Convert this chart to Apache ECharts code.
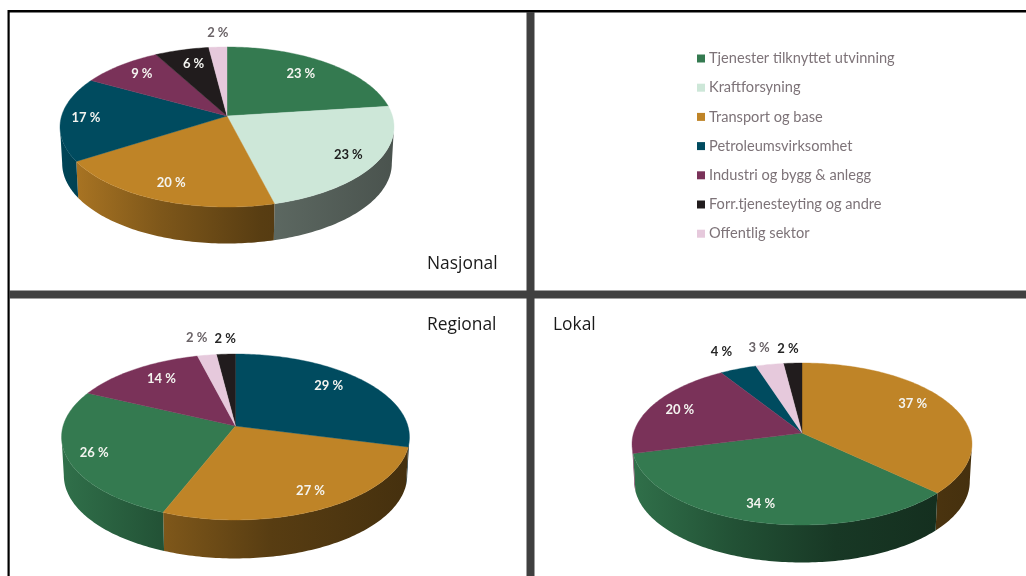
<!DOCTYPE html>
<html>
<head>
<meta charset="utf-8">
<style>html,body{margin:0;padding:0;background:#fff}#c{width:1026px;height:576px}</style>
<script src="https://cdn.jsdelivr.net/npm/echarts@6/dist/echarts.min.js"></script>
</head>
<body>
<div id="c"></div>
<script>
// ---- data ----
const categories = ['Tjenester tilknyttet utvinning','Kraftforsyning','Transport og base','Petroleumsvirksomhet','Industri og bygg & anlegg','Forr.tjenesteyting og andre','Offentlig sektor'];
const panelNames = ['Nasjonal','Regional','Lokal'];
// clockwise from 12 o'clock: index into categories, and the percentage shown
const nasjonalOrder = [0,1,2,3,4,5,6];
const nasjonalValues = [23,23,20,17,9,6,2];
const regionalOrder = [3,2,0,4,6,5];
const regionalValues = [29,27,26,14,2,2];
const lokalOrder = [2,0,4,3,6,5];
const lokalValues = [37,34,20,4,3,2];

// ---- styling and layout (not data) ----
const colors = ['#347a50','#cde7d8','#bf8427','#004b5f','#7a3259','#211c1d','#e6c9dc'];
const FONT = 'Lato, "Open Sans", sans-serif';
const TITLE_FONT = '"Open Sans", "Noto Sans", sans-serif';
const pies = [
  {ax:227, ay:116, A:165.4, B:78.5, k:0.1375, depth:36.5, rx:167,
   labelR:[.76,.83,.82,.85,.80,.76,1.24], labelShift:[-2,0,0,0,1,1,.6]},
  {ax:235.5, ay:426, A:172.4, B:81.5, k:0.1325, depth:38.5, rx:174,
   labelR:[.78,.82,.845,.78,1.287,1.247], labelShift:[-4.4,-1.7,0,3,-1,.4]},
  {ax:802, ay:433, A:168.4, B:79.5, k:0.136, depth:37.5, rx:170,
   labelR:[.79,.825,.812,1.304,1.287,1.237], labelShift:[-5.6,1,0,0,-.8,-.9]}
];
const orders = [nasjonalOrder, regionalOrder, lokalOrder];
const values = [nasjonalValues, regionalValues, lokalValues];
const wallStops = [[0,.92],[.3,.66],[.6,.46],[1,.36]];

function project(p, frac, r){
  const t = frac * 2 * Math.PI, u = r * Math.sin(t), v = -r * Math.cos(t), w = 1 - p.k * v;
  return [p.ax + p.A * u / w, p.ay + p.B * v / w];
}
function arc(p, f0, f1){
  const n = Math.max(2, Math.ceil((f1 - f0) * 360)), out = [];
  for (let i = 0; i <= n; i++) out.push(project(p, f0 + (f1 - f0) * i / n, 1));
  return out;
}
function shade(hex, m){
  const n = parseInt(hex.slice(1), 16);
  return 'rgb(' + [(n>>16)&255,(n>>8)&255,n&255].map(c => Math.round(c*m)).join(',') + ')';
}

// rows: [panel, start fraction, end fraction, value, category, label radius, label angle shift]
const rows = [];
values.forEach((vals, pi) => {
  const total = vals.reduce((a,b)=>a+b,0);
  let cum = 0;
  vals.forEach((v, i) => {
    rows.push([pi, cum/total, (cum+v)/total, v, orders[pi][i], pies[pi].labelR[i], pies[pi].labelShift[i]]);
    cum += v;
  });
});

function renderWall(params, api){
  const p = pies[api.value(0)], col = colors[api.value(4)];
  // only the front of the rim shows: from the right-most to the left-most point of the ellipse
  const fR = Math.acos(-p.k) / (2 * Math.PI), fL = 1 - fR;
  const f0 = Math.max(api.value(1), fR), f1 = Math.min(api.value(2), fL);
  if (f1 <= f0) return null;
  const top = arc(p, f0, f1);
  const bottom = top.map(q => [p.ax + (q[0]-p.ax)*0.987, q[1] + p.depth]).reverse();
  return {
    type:'polygon', silent:true,
    shape:{points: top.concat(bottom)},
    style:{fill:{type:'linear', x:p.ax-p.rx, y:0, x2:p.ax+p.rx, y2:0, global:true,
      colorStops: wallStops.map(s => ({offset:s[0], color:shade(col, s[1])}))}}
  };
}
function renderTop(params, api){
  const pi = api.value(0), p = pies[pi], f0 = api.value(1), f1 = api.value(2), v = api.value(3), cat = api.value(4);
  const r = api.value(5), lp = project(p, (f0+f1)/2 + api.value(6)/360, r);
  const outside = r > 1;
  const fill = outside ? (cat === 6 ? '#6b6468' : '#262626') : (cat === 1 ? '#1e1e1e' : '#f4f4f0');
  return {
    type:'group',
    children:[
      {type:'polygon', shape:{points:[[p.ax,p.ay]].concat(arc(p,f0,f1))},
       style:{fill:colors[cat], stroke:colors[cat], lineWidth:0.4}},
      {type:'text', z2:20, silent:true,
       style:{x:lp[0], y:lp[1], text:v + ' %', align:'center', verticalAlign:'middle',
              fill:fill, font:'bold 13px ' + FONT}}
    ]
  };
}

const series = [{
  type:'custom', name:'sider', coordinateSystem:'none', silent:true,
  renderItem:renderWall, data:rows, animation:false
}];
categories.forEach((name, c) => {
  series.push({
    type:'custom', name:name, coordinateSystem:'none', silent:true,
    itemStyle:{color:colors[c]},
    renderItem:renderTop, data:rows.filter(d => d[4] === c), animation:false
  });
});

const titleStyle = {fontFamily:TITLE_FONT, fontWeight:'normal', fontSize:17.4, color:'#1a1a1a'};
const rule = (x,y,w,h,fill) => ({type:'rect', silent:true, z:-1, shape:{x,y,width:w,height:h}, style:{fill}});
const chart = echarts.init(document.getElementById('c'));
chart.setOption({
  backgroundColor:'#ffffff',
  animation:false,
  tooltip:{show:false},
  title:[
    {text:panelNames[0], left:427, top:256, padding:0, textStyle:titleStyle},
    {text:panelNames[1], left:427, top:317, padding:0, textStyle:titleStyle},
    {text:panelNames[2], left:553, top:317, padding:0, textStyle:titleStyle}
  ],
  legend:{
    orient:'vertical', left:697, top:51, padding:0,
    data:categories, selectedMode:false,
    icon:'rect', itemWidth:8, itemHeight:8, itemGap:14.2,
    textStyle:{fontFamily:FONT, fontSize:14.6, color:'#7d7378', padding:[0,0,0,-1], lineHeight:14}
  },
  graphic:[
    rule(8,10,1018,2.5,'#000000'),
    rule(7.5,10,2.2,566,'#000000'),
    rule(9,290.5,1017,8,'#404040'),
    rule(526.5,12,8,564,'#404040')
  ],
  series:series
});
</script>
</body>
</html>
